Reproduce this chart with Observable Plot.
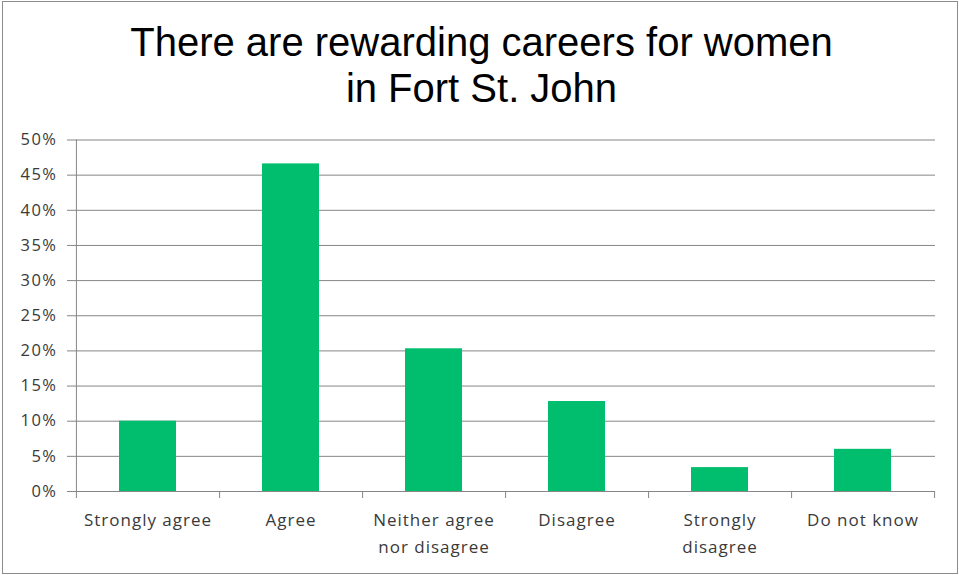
<!DOCTYPE html>
<html><head><meta charset="utf-8">
<script src="https://cdn.jsdelivr.net/npm/d3@7"></script>
<script src="https://cdn.jsdelivr.net/npm/@observablehq/plot@0.6"></script>
<style>
body{margin:0;background:#fff;}
#wrap{position:relative;width:959px;height:575px;overflow:hidden;background:#fff}
#title{position:absolute;left:2px;top:19px;width:959px;text-align:center;font-family:"Liberation Sans",Arial,sans-serif;font-size:40px;line-height:46px;color:#000}
#chart{position:absolute;left:0;top:118px}
#border{position:absolute;left:2px;top:1px;width:954px;height:571px;border:1px solid #8c8c8c;pointer-events:none}
</style>
</head><body>
<div id="wrap">
  <div id="title">There are rewarding careers for women<br>in Fort St. John</div>
  <div id="chart"></div>
  <div id="border"></div>
</div>
<script>
const categories = ["Strongly agree","Agree","Neither agree\nnor disagree","Disagree","Strongly\ndisagree","Do not know"];
const shares = [0.100, 0.466, 0.203, 0.128, 0.034, 0.060];
const yTicks = [0,0.05,0.10,0.15,0.20,0.25,0.30,0.35,0.40,0.45,0.50];
const data = categories.map((c,i)=>({category:c, share:shares[i]}));

const W=959,H=454,mL=76,mR=24,mT=21.5,mB=81;
const step=(W-mL-mR)/categories.length;
const gridColor="#868686", textColor="#3a3a3a";

const chart = Plot.plot({
  width:W,height:H,marginLeft:mL,marginRight:mR,marginTop:mT,marginBottom:mB,
  style:{fontFamily:"'Open Sans',sans-serif",fontSize:"16px",color:textColor,background:"transparent"},
  x:{domain:categories,paddingInner:0.6,paddingOuter:0.29},
  y:{domain:[0,0.5]},
  marks:[
    Plot.gridY(yTicks,{stroke:gridColor,strokeOpacity:1}),
    Plot.axisY(yTicks,{tickFormat:d3.format(".0%"),tickSize:9,tickPadding:10,stroke:gridColor,fill:textColor,label:null,fontSize:16.5}),
    Plot.barY(data,{x:"category",y:"share",fill:"#00BE6E"}),
    Plot.ruleX(categories.slice(0,1),{x:d=>d,dx:-step/2,y1:0.5,y2:-0.01,stroke:gridColor}),
    Plot.ruleX(categories,{x:d=>d,dx:step/2,y1:0,y2:-0.01,stroke:gridColor}),
    Plot.axisX({tickSize:0,tickPadding:15,label:null,lineHeight:1.6,fill:textColor,fontSize:17})
  ]
});
chart.querySelectorAll("g[aria-label='x-axis tick label'] text, g[aria-label='x-axis tick label'] tspan").forEach(t=>t.style.letterSpacing="1px");
chart.querySelectorAll("g[aria-label='y-axis tick label'] text").forEach(t=>t.style.letterSpacing="1.5px");
document.getElementById("chart").appendChild(chart);
</script>
</body></html>
